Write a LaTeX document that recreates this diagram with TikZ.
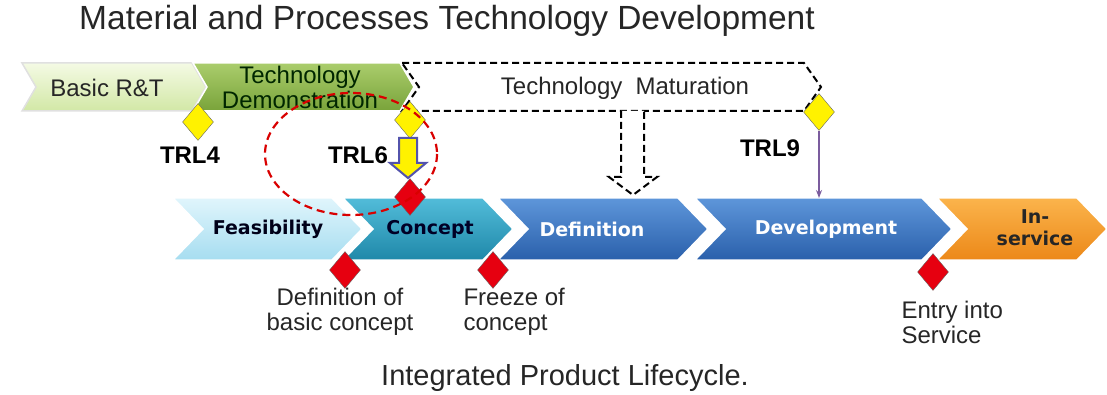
\documentclass[tikz,border=0pt]{standalone}
\usepackage{fontspec}
\setmainfont{Liberation Sans}
\newfontfamily\chevfont{DejaVu Sans}
\usetikzlibrary{arrows.meta, shapes.geometric}

\definecolor{basictop}{HTML}{F4FAE4}
\definecolor{basicbot}{HTML}{D2E8A6}
\definecolor{demotop}{HTML}{AACD6C}
\definecolor{demobot}{HTML}{79A33A}
\definecolor{feastop}{HTML}{E0F5FC}
\definecolor{feasbot}{HTML}{A6DDF0}
\definecolor{conctop}{HTML}{52BCD9}
\definecolor{concbot}{HTML}{1F88A9}
\definecolor{deftop}{HTML}{5E96DA}
\definecolor{defbot}{HTML}{2A60AB}
\definecolor{instop}{HTML}{FBB44C}
\definecolor{insbot}{HTML}{EC8818}
\definecolor{gatered}{HTML}{E60010}
\definecolor{trlline}{HTML}{7B5C9E}

% chevron: left x, right x, top y, bottom y, depth, style
\newcommand{\chevron}[6]{%
  \pgfmathsetmacro{\ymid}{(#3+#4)/2}
  \path[#6] (#1,#3) -- (#2,#3) -- (#2+#5,\ymid) -- (#2,#4) -- (#1,#4) -- (#1+#5,\ymid) -- cycle;
}

\tikzset{
  phase/.style={draw=white, line width=1.5pt},
  label/.style={font=\fontsize{24}{25}\selectfont, align=center, text=black!85},
  stage/.style={font=\chevfont\bfseries\fontsize{19}{22}\selectfont, align=center},
  trl/.style={font=\bfseries\fontsize{24}{25}\selectfont, text=black},
  note/.style={font=\fontsize{24}{25}\selectfont, text=black!85},
  gate/.style={diamond, draw=black!60, thin, inner sep=0pt, minimum width=31pt, minimum height=37pt},
  bigdash/.style={dash pattern=on 7pt off 4pt, line width=2pt},
}

\begin{document}
\begin{tikzpicture}[x=1pt, y=-1pt]
    \useasboundingbox (0,0) rectangle (1107,395);

    % titles
    \node (top) at (447,21) [font=\fontsize{33.5}{35}\selectfont, text=black!85] {Material and Processes Technology Development};
    \node (bottom) at (565,378) [font=\fontsize{29}{30}\selectfont, text=black!85] {Integrated Product Lifecycle.};

    % technology row
    \chevron{22}{192}{63}{111}{14}{phase, draw=black!12, top color=basictop, bottom color=basicbot}
    \chevron{193}{400}{63}{111}{14}{phase, top color=demotop, bottom color=demobot}
    \chevron{402}{804}{63}{111}{17}{draw=black, bigdash, fill=white}
    \node (basic) at (107,88) [label] {Basic R\&T};
    \node (demo) at (300,87) [label, text=black!85!green] {Technology\\Demonstration};
    \node (matur) at (625,88) [label] {Technology~~Maturation};

    % lifecycle row
    \chevron{173}{332}{198}{260}{30}{phase, top color=feastop, bottom color=feasbot}
    \chevron{343}{483}{198}{260}{30}{phase, top color=conctop, bottom color=concbot}
    \chevron{498}{678}{198}{260}{30}{phase, top color=deftop, bottom color=defbot}
    \chevron{695}{922}{198}{260}{30}{phase, top color=deftop, bottom color=defbot}
    \chevron{937}{1077}{198}{260}{30}{phase, top color=instop, bottom color=insbot}
    \node (feas) at (268,229) [stage, text=black!90!blue] {Feasibility};
    \node (conc) at (430,229) [stage, text=black!85!blue] {Concept};
    \node (defi) at (592,229) [stage, text=white] {Definition};
    \node (deve) at (826,229) [stage, text=white] {Development};
    \node (insv) at (1035,228) [stage, text=black!85] {In-\\service};

    % maturation feeds definition
    \draw[bigdash, fill=white] (621,111) -- (621,177) -- (609,177) -- (633,195) -- (657,177) -- (644,177) -- (644,111);

    % TRL gates
    \node (g4) at (198,122) [gate, fill=yellow] {};
    \node (g6) at (410,120) [gate, fill=yellow] {};
    \node (g9) at (819,112) [gate, fill=yellow] {};
    \node at (190,155) [trl] {TRL4};
    \node at (358,155) [trl] {TRL6};
    \node at (770,148) [trl] {TRL9};

    % lifecycle gates
    \node (c0) at (410,197) [gate, fill=gatered] {};
    \node (c1) at (345,270) [gate, fill=gatered] {};
    \node (c2) at (493,270) [gate, fill=gatered] {};
    \node (c3) at (933,272) [gate, fill=gatered] {};

    % TRL6 into concept
    \draw[draw=blue!35!gray, line width=2pt, fill=yellow] (399,138) -- (417,138) -- (417,163) -- (426,163) -- (408,178) -- (390,163) -- (399,163) -- cycle;

    % TRL9 into development
    \coordinate (devtop) at (819,198);
    \draw[-{Stealth[length=8pt]}, trlline, line width=1.6pt] (g9.south) -- (devtop);

    % TRL6 focus
    \draw[red!85!black, dash pattern=on 8pt off 5pt, line width=2.2pt] (351,154) ellipse [x radius=86, y radius=61];

    \node (n1) at (340,312) [note, align=center] {Definition of\\basic concept};
    \node (n2) at (460,312) [note, align=left, anchor=west] {Freeze of\\concept};
    \node (n3) at (898,322) [note, align=left, anchor=west] {Entry into\\Service};
\end{tikzpicture}
\end{document}
